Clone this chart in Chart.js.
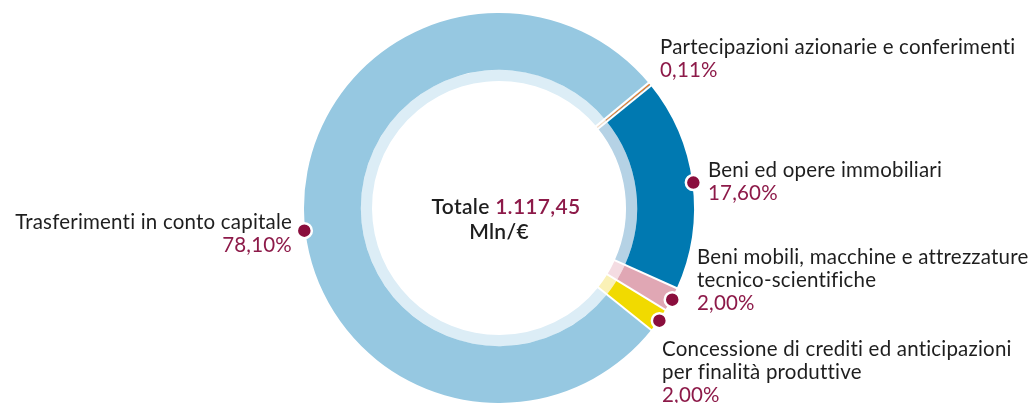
<!DOCTYPE html>
<html><head><meta charset="utf-8">
<script src="https://cdn.jsdelivr.net/npm/chart.js@4"></script>
<style>html,body{margin:0;padding:0;background:#fff}#wrap{width:1034px;height:403px;position:relative}</style>
</head><body><div id="wrap"><canvas id="c" width="1034" height="403"></canvas></div>
<script>
// Data (drawing order: tiny orange slice last so it stays visible)
const categories = ["Beni ed opere immobiliari", "Beni mobili, macchine e attrezzature tecnico-scientifiche", "Concessione di crediti ed anticipazioni per finalità produttive", "Trasferimenti in conto capitale", "Partecipazioni azionarie e conferimenti"];
const shares = [17.60, 2.00, 2.00, 78.10, 0.11];
const shareLabels = ["17,60%", "2,00%", "2,00%", "78,10%", "0,11%"];
const totalLabel = "1.117,45";

const mainColors = ["#0079b1", "#e0a7b4", "#f1da00", "#96c8e1", "#e8731c"];
const paleColors = ["#b5d2e5", "#f4dce2", "#faf1b6", "#dcedf6", "#f7d3b5"];

const FONT = "Lato, 'Open Sans', sans-serif";
const TXT = "#1e1e1e", MAROON = "#8d1a49", DOT = "#8a0e3d";

const labelDefs = [
  {lines:["Beni ed opere immobiliari"], x:708, y:170, align:"left", dot:0.5},
  {lines:["Beni mobili, macchine e attrezzature","tecnico-scientifiche"], x:697, y:257, align:"left", dot:0.5},
  {lines:["Concessione di crediti ed anticipazioni","per finalità produttive"], x:662, y:349, align:"left", dot:0.5},
  {lines:["Trasferimenti in conto capitale"], x:292, y:222, align:"right", dot:0.478},
  {lines:["Partecipazioni azionarie e conferimenti"], x:660, y:47, align:"left", dot:null}
];

function radial(ctx, cx, cy, a, r0, r1, off){
  const nx = -Math.sin(a)*off, ny = Math.cos(a)*off;
  ctx.beginPath();
  ctx.moveTo(cx + Math.cos(a)*r0 + nx, cy + Math.sin(a)*r0 + ny);
  ctx.lineTo(cx + Math.cos(a)*r1 + nx, cy + Math.sin(a)*r1 + ny);
  ctx.stroke();
}

const labelPlugin = {
  id:"labels",
  afterDatasetsDraw(chart){
    const ctx = chart.ctx;
    const meta = chart.getDatasetMeta(0);
    const pale = chart.getDatasetMeta(1);
    const cx = meta.data[0].x, cy = meta.data[0].y;
    const rOut = meta.data[0].outerRadius, rIn = pale.data[0].innerRadius;
    ctx.save();
    // white separators between slices
    ctx.strokeStyle = "#fff"; ctx.lineWidth = 2; ctx.lineCap = "butt";
    const n = meta.data.length, small = n-1;
    meta.data.forEach((arc,i)=>{
      if(i===small || i===0) return; // edges touching the tiny slice handled below
      radial(ctx, cx, cy, arc.startAngle, rIn-1, rOut+2, 0);
    });
    const sm = meta.data[small];
    radial(ctx, cx, cy, sm.startAngle, rIn-1, rOut+2, -1.2);
    radial(ctx, cx, cy, sm.endAngle, rIn-1, rOut+2, 1.2);
    // dots
    meta.data.forEach((arc,i)=>{
      const d = labelDefs[i];
      if(d.dot===null) return;
      const a = arc.startAngle + (arc.endAngle - arc.startAngle)*d.dot;
      const r = rOut + 1;
      const x = cx + Math.cos(a)*r, y = cy + Math.sin(a)*r;
      ctx.beginPath(); ctx.arc(x,y,7.5,0,Math.PI*2);
      ctx.fillStyle = DOT; ctx.fill();
      ctx.lineWidth = 2.5; ctx.strokeStyle = "#fff"; ctx.stroke();
    });
    // labels
    ctx.font = "20.5px " + FONT;
    ctx.letterSpacing = "0.2px";
    ctx.textBaseline = "middle";
    labelDefs.forEach((d,i)=>{
      ctx.textAlign = d.align;
      let y = d.y;
      ctx.fillStyle = TXT;
      d.lines.forEach(l=>{ ctx.fillText(l, d.x, y); y += 23; });
      ctx.fillStyle = MAROON;
      ctx.fillText(shareLabels[i], d.x, y);
    });
    // centre text
    ctx.letterSpacing = "0.3px";
    ctx.font = "600 21px " + FONT;
    ctx.textAlign = "left";
    const t1 = "Totale ", w1 = ctx.measureText(t1).width;
    const w2 = ctx.measureText(totalLabel).width;
    const x0 = cx + 7 - (w1+w2)/2;
    ctx.fillStyle = TXT; ctx.fillText(t1, x0, cy-1);
    ctx.fillStyle = MAROON; ctx.fillText(totalLabel, x0+w1, cy-1);
    ctx.fillStyle = TXT; ctx.textAlign = "center";
    ctx.fillText("Mln/€", cx, cy+24);
    ctx.restore();
  }
};

new Chart(document.getElementById("c"), {
  type:"doughnut",
  data:{
    labels:categories,
    datasets:[
      {data:shares, backgroundColor:mainColors, borderWidth:0, weight:56},
      {data:shares, backgroundColor:paleColors, borderWidth:0, weight:11}
    ]
  },
  options:{
    responsive:false, animation:false,
    rotation:50.8, cutout:127,
    layout:{padding:{top:13,bottom:0,left:0,right:36}},
    plugins:{legend:{display:false}, tooltip:{enabled:false}},
    events:[]
  },
  plugins:[labelPlugin]
});
</script></body></html>
